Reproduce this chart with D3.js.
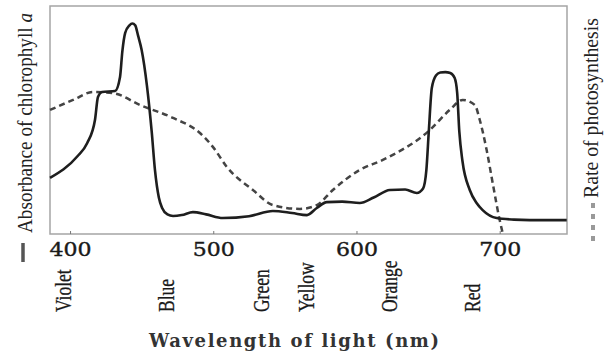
<!DOCTYPE html>
<html>
<head>
<meta charset="utf-8">
<script src="https://cdn.jsdelivr.net/npm/d3@7"></script>
<style>
  body { margin: 0; background: #fff; }
  svg { display: block; }
  .serif { font-family: "Liberation Serif", "Times New Roman", "DejaVu Serif", serif; }
</style>
</head>
<body>
<svg id="chart"></svg>
<script>
// absorbance of chlorophyll a (solid line)
var absWave = [386, 405, 412, 417.4, 419.5, 422.3, 431.4, 434.9, 436.5, 438.5, 441.5, 443.5, 445.5, 447.5, 450, 453.7, 457, 459.3, 462, 464.2, 468, 471.9, 478, 485.8, 495, 506.7, 525, 541.6, 555, 565.4, 572.3, 579.3, 590, 602.3, 612, 623.3, 634, 642.1, 646.5, 648.8, 650.5, 652.6, 655.5, 658.5, 662, 665.5, 668.5, 670.3, 671.8, 674, 679.1, 684, 688.1, 697.9, 710, 720.9, 746.8];
var absValue = [24.6, 34, 39.9, 50.0, 60.1, 62.3, 62.7, 68.9, 80, 88.2, 91.5, 92.3, 91.5, 87, 80.7, 65, 45, 28, 16, 11.5, 8.6, 7.9, 8.3, 9.6, 8.6, 7.0, 7.8, 10.1, 9.2, 8.3, 11.4, 14.0, 14.2, 13.6, 16, 19.3, 19.5, 18.0, 20, 28, 45, 64, 69.5, 70.8, 71, 70.6, 68.5, 62, 45, 32, 19.3, 13.5, 10.5, 7.0, 6.3, 6.1, 6.1];

// rate of photosynthesis (dashed line)
var rateWave = [386, 402.1, 416, 430, 448.8, 471.9, 490.7, 500, 509.5, 527.7, 541.6, 560.5, 572.3, 583.5, 602.3, 618.4, 651.2, 665.1, 674.2, 682.6, 686.1, 690.9, 695.1, 700, 702.1];
var rateValue = [54.4, 58.8, 62.3, 61.8, 56.6, 50.9, 44.3, 38, 29.4, 19.3, 12.7, 11.0, 12.7, 19.3, 28.1, 32.5, 45.6, 54.4, 58.8, 56.6, 50.0, 36.8, 22.4, 6.1, 0.4];

var xTicks = [400, 500, 600, 700];
var colourNames = ["Violet", "Blue", "Green", "Yellow", "Orange", "Red"];
var colourWave = [395, 467, 533, 565, 623, 681];

var W = 605, H = 355;
var plotLeft = 50, plotRight = 567, plotTop = 6, plotBottom = 234;
var squeeze = 0.76; // DejaVu Serif is wider than the Times face in the picture

var svg = d3.select("#chart").attr("width", W).attr("height", H);

var x = d3.scaleLinear().domain([386, 747]).range([plotLeft, plotRight]);
var y = d3.scaleLinear().domain([0, 100]).range([plotBottom, plotTop]);

// frame
svg.append("rect")
    .attr("x", plotLeft).attr("y", plotTop)
    .attr("width", plotRight - plotLeft).attr("height", plotBottom - plotTop)
    .attr("fill", "none")
    .attr("stroke", "#a5a5a5")
    .attr("stroke-width", 1.5);

// x axis ticks (small, inside) and labels
var xAxis = svg.append("g")
    .attr("transform", "translate(0," + plotBottom + ")")
    .call(d3.axisBottom(x).tickValues(xTicks).tickSize(-3).tickPadding(9).tickFormat(d3.format("d")));
xAxis.select(".domain").remove();
xAxis.selectAll(".tick line").attr("stroke", "#777");
xAxis.selectAll(".tick text")
    .attr("fill", "#1a1a1a")
    .attr("stroke", "#1a1a1a")
    .attr("stroke-width", 0.4)
    .attr("font-family", null)
    .attr("textLength", 42)
    .attr("lengthAdjust", "spacingAndGlyphs")
    .style("font-family", "'DejaVu Serif', serif")
    .style("font-size", "19px");

// curves
var absLine = d3.line()
    .x(function(d, i) { return x(absWave[i]); })
    .y(function(d) { return y(d); })
    .curve(d3.curveMonotoneX);

var rateLine = d3.line()
    .x(function(d, i) { return x(rateWave[i]); })
    .y(function(d) { return y(d); })
    .curve(d3.curveMonotoneX);

svg.append("path")
    .datum(rateValue)
    .attr("d", rateLine)
    .attr("fill", "none")
    .attr("stroke", "#444")
    .attr("stroke-width", 2.5)
    .attr("stroke-dasharray", "6,4");

svg.append("path")
    .datum(absValue)
    .attr("d", absLine)
    .attr("fill", "none")
    .attr("stroke", "#1e1e1e")
    .attr("stroke-width", 2.6);

// colour names under the axis
svg.selectAll(".colour")
    .data(colourNames)
    .enter()
    .append("text")
    .attr("class", "colour serif")
    .attr("transform", function(d, i) { return "translate(" + (x(colourWave[i]) + 8) + ",312) rotate(-90) scale(" + squeeze + ",1)"; })
    .attr("text-anchor", "start")
    .attr("fill", "#1a1a1a")
    .attr("stroke", "#1a1a1a")
    .attr("stroke-width", 0.3)
    .style("font-size", "23px")
    .text(function(d) { return d; });

// x title
svg.append("text")
    .attr("x", 294)
    .attr("y", 347)
    .attr("text-anchor", "middle")
    .attr("fill", "#333")
    .attr("textLength", 290)
    .attr("lengthAdjust", "spacing")
    .style("font-family", "'DejaVu Serif', serif")
    .style("font-weight", "bold")
    .style("font-size", "18px")
    .text("Wavelength of light (nm)");

// left title + solid legend mark
var lt = svg.append("text")
    .attr("class", "serif")
    .attr("transform", "translate(32,233) rotate(-90)")
    .attr("text-anchor", "start")
    .attr("fill", "#222")
    .attr("textLength", 220)
    .attr("lengthAdjust", "spacingAndGlyphs")
    .style("font-size", "21px");
lt.append("tspan").text("Absorbance of chlorophyll ");
lt.append("tspan").style("font-style", "italic").text("a");

svg.append("line")
    .attr("x1", 23).attr("x2", 23)
    .attr("y1", 243).attr("y2", 262)
    .attr("stroke", "#555")
    .attr("stroke-width", 3.5);

// right title + dashed legend mark
svg.append("text")
    .attr("class", "serif")
    .attr("transform", "translate(598,198) rotate(-90)")
    .attr("text-anchor", "start")
    .attr("fill", "#222")
    .attr("textLength", 180)
    .attr("lengthAdjust", "spacingAndGlyphs")
    .style("font-size", "21px")
    .text("Rate of photosynthesis");

svg.append("line")
    .attr("x1", 593).attr("x2", 593)
    .attr("y1", 203).attr("y2", 243)
    .attr("stroke", "#999")
    .attr("stroke-width", 4)
    .attr("stroke-dasharray", "5,6");
</script>
</body>
</html>
